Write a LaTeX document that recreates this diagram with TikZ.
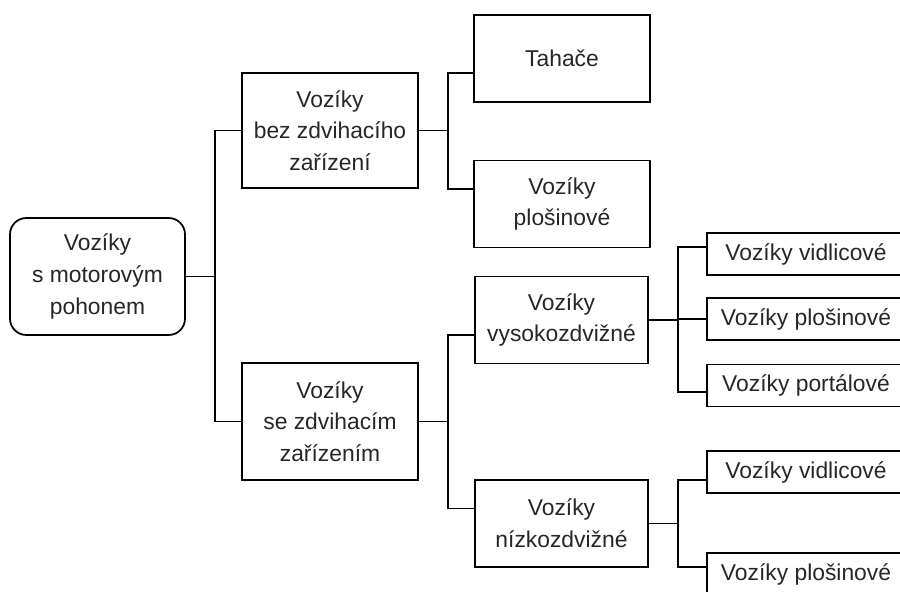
\documentclass[tikz,border=0pt]{standalone}
\usepackage{fontspec}
\setmainfont{Liberation Sans}
\begin{document}
\begin{tikzpicture}[x=0.03cm,y=-0.03cm,line width=1.5pt]
\tikzstyle{every node}=[draw,rectangle,align=center,inner sep=0pt,text=black!85,
  font=\fontsize{19.5}{27}\selectfont];
\tikzset{midbox/.style={minimum width=5.28cm,minimum height=2.61cm},
  leafbox/.style={minimum width=5.94cm,minimum height=1.26cm}}
\useasboundingbox (0,0) rectangle (900,592);
\clip (0,0) rectangle (900,592);

  \node[rounded corners=14pt,minimum width=5.25cm,minimum height=3.51cm] (root) at (97.5,276.5) {Vozíky\\s motorovým\\pohonem};

  \node[midbox,minimum height=3.45cm] (a) at (330,130.5) {Vozíky\\bez zdvihacího\\zařízení};
  \node[midbox,minimum height=3.51cm] (b) at (330,421.5) {Vozíky\\se zdvihacím\\zařízením};

  \node[midbox] (t) at (562,58.5) {Tahače};
  \node[midbox] (p) at (562,204) {Vozíky\\plošinové};
  \node[midbox,minimum width=5.19cm] (vy) at (561.5,320) {Vozíky\\vysokozdvižné};
  \node[midbox,minimum width=5.19cm] (ni) at (561.5,523.5) {Vozíky\\nízkozdvižné};

  \node[leafbox] (v1) at (806,254) {Vozíky vidlicové};
  \node[leafbox] (v2) at (806,319) {Vozíky plošinové};
  \node[leafbox] (v3) at (806,385.5) {Vozíky portálové};
  \node[leafbox] (n1) at (806,472) {Vozíky vidlicové};
  \node[leafbox] (n2) at (806,574) {Vozíky plošinové};

\foreach \from/\to/\dy in {root/a/0, root/b/0, a/t/-14.5, a/p/15, b/vy/-15, b/ni/15,
  vy/v1/7, vy/v2/0, vy/v3/-6.5, ni/n1/-8, ni/n2/7}
\draw (\from.east) -- ++(29,0) |- ([yshift=\dy*0.03cm]\to.west);

\end{tikzpicture}
\end{document}
